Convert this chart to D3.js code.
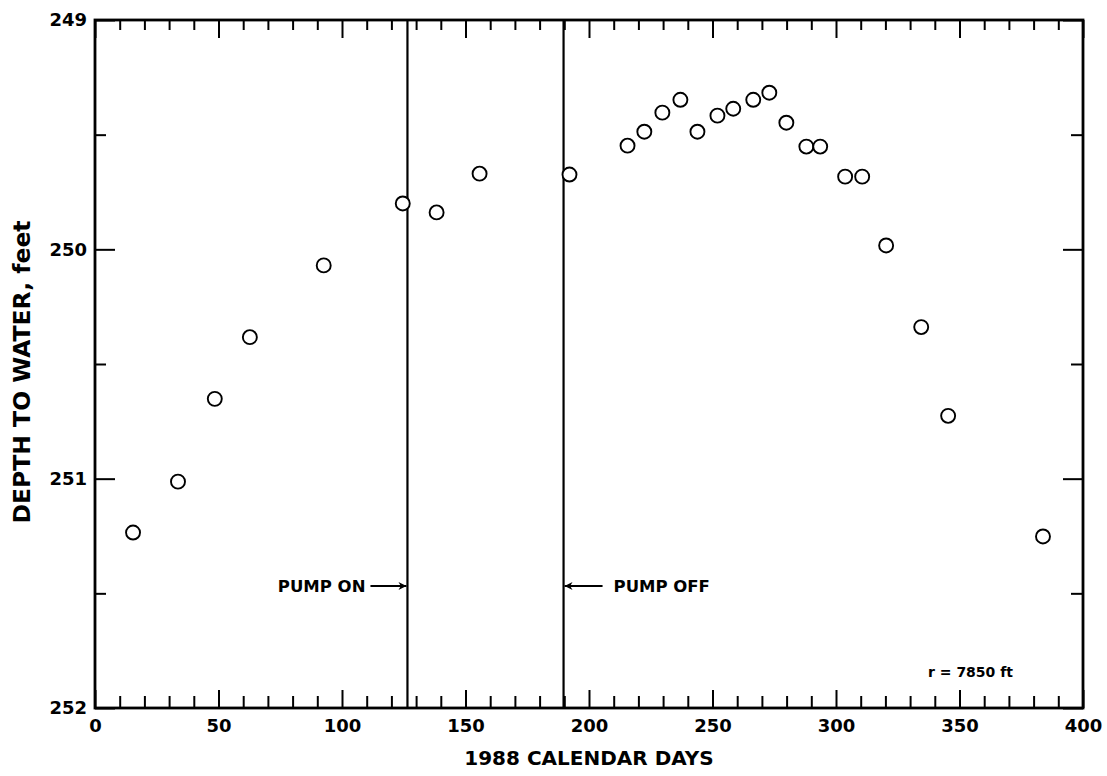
<!DOCTYPE html>
<html>
<head>
<meta charset="utf-8">
<script src="https://cdn.jsdelivr.net/npm/d3@7"></script>
<style>
  html, body { margin: 0; padding: 0; background: #fff; }
  text { font-family: "DejaVu Sans", "Liberation Sans", Arial, sans-serif; font-weight: bold; fill: #000; }
</style>
</head>
<body>
<svg id="chart" width="1107" height="776"></svg>
<script>
// ---- data ----
const days = [15.4, 33.6, 48.5, 62.7, 92.6, 124.6, 138.3, 155.7, 192.1, 215.6, 222.4, 229.7, 237.0, 243.9,
              252.0, 258.4, 266.5, 273.0, 279.9, 288.0, 293.6, 303.7, 310.6, 320.3, 334.5, 345.4, 383.8];
const depths = [251.235, 251.013, 250.652, 250.383, 250.070, 249.800, 249.839, 249.670, 249.674, 249.548,
                249.487, 249.404, 249.348, 249.487, 249.417, 249.387, 249.348, 249.317, 249.448, 249.552,
                249.552, 249.683, 249.683, 249.983, 250.339, 250.726, 251.252];
const xMajorTicks = [0, 50, 100, 150, 200, 250, 300, 350, 400];
const xMinorTicks = d3.range(0, 401, 10).filter(d => d % 50 !== 0);
const yMajorTicks = [249, 250, 251, 252];
const yMinorTicks = [249.5, 250.5, 251.5];
const pumpOnDay = 126.5;
const pumpOffDay = 189.7;
const xTitle = "1988 CALENDAR DAYS";
const yTitle = "DEPTH TO WATER, feet";
const noteText = "r = 7850 ft";

// ---- layout ----
const svg = d3.select("#chart");
const L = 95, R = 1083, T = 20, B = 708;
const x = d3.scaleLinear().domain([0, 400]).range([L, R]);
const y = d3.scaleLinear().domain([249, 252]).range([T, B]);

function styleAxis(g) {
  g.select(".domain").remove();
  g.selectAll(".tick line").attr("stroke", "#000").attr("stroke-width", 2);
}
function styleLabels(g) {
  g.selectAll(".tick text").attr("font-size", 18).attr("font-family", "DejaVu Sans")
    .attr("font-weight", "bold").attr("fill", "#000");
}

// bottom axis
svg.append("g").attr("transform", `translate(0,${B})`)
  .call(d3.axisBottom(x).tickValues(xMinorTicks).tickSize(-12).tickFormat(""))
  .call(styleAxis);
svg.append("g").attr("transform", `translate(0,${B})`)
  .call(d3.axisBottom(x).tickValues(xMajorTicks).tickSize(-18).tickPadding(11).tickFormat(d3.format("d")))
  .call(styleAxis).call(styleLabels);

// top axis
svg.append("g").attr("transform", `translate(0,${T})`)
  .call(d3.axisTop(x).tickValues(xMinorTicks).tickSize(-10).tickFormat(""))
  .call(styleAxis);
svg.append("g").attr("transform", `translate(0,${T})`)
  .call(d3.axisTop(x).tickValues(xMajorTicks).tickSize(-18).tickFormat(""))
  .call(styleAxis);

// left axis
svg.append("g").attr("transform", `translate(${L},0)`)
  .call(d3.axisLeft(y).tickValues(yMinorTicks).tickSize(-11).tickFormat(""))
  .call(styleAxis);
svg.append("g").attr("transform", `translate(${L},0)`)
  .call(d3.axisLeft(y).tickValues(yMajorTicks).tickSize(-20).tickPadding(8).tickFormat(d3.format("d")))
  .call(styleAxis).call(styleLabels);

// right axis
svg.append("g").attr("transform", `translate(${R},0)`)
  .call(d3.axisRight(y).tickValues(yMinorTicks).tickSize(-12).tickFormat(""))
  .call(styleAxis);
svg.append("g").attr("transform", `translate(${R},0)`)
  .call(d3.axisRight(y).tickValues(yMajorTicks).tickSize(-20).tickFormat(""))
  .call(styleAxis);

// frame
svg.append("rect").attr("x", L).attr("y", T).attr("width", R - L).attr("height", B - T)
  .attr("fill", "none").attr("stroke", "#000").attr("stroke-width", 2.8);

// pump lines
[pumpOnDay, pumpOffDay].forEach(d => {
  svg.append("line").attr("x1", x(d)).attr("x2", x(d)).attr("y1", T).attr("y2", B)
    .attr("stroke", "#000").attr("stroke-width", 2.2);
});

// arrowhead marker
svg.append("defs").append("marker").attr("id", "arr")
  .attr("viewBox", "0 0 10 10").attr("refX", 10).attr("refY", 5)
  .attr("markerWidth", 13).attr("markerHeight", 8).attr("markerUnits", "userSpaceOnUse")
  .attr("orient", "auto")
  .append("path").attr("d", "M0,0 L10,5 L0,10 L3,5 Z").attr("fill", "#000");

const arrowY = 586;
svg.append("line").attr("x1", x(pumpOnDay) - 37).attr("x2", x(pumpOnDay) - 1)
  .attr("y1", arrowY).attr("y2", arrowY).attr("stroke", "#000").attr("stroke-width", 2.2)
  .attr("marker-end", "url(#arr)");
svg.append("text").attr("x", x(pumpOnDay) - 42).attr("y", arrowY).attr("dy", "0.36em")
  .attr("text-anchor", "end").attr("font-size", 16.5).text("PUMP ON");

svg.append("line").attr("x1", x(pumpOffDay) + 39).attr("x2", x(pumpOffDay) + 1)
  .attr("y1", arrowY).attr("y2", arrowY).attr("stroke", "#000").attr("stroke-width", 2.2)
  .attr("marker-end", "url(#arr)");
svg.append("text").attr("x", x(pumpOffDay) + 50).attr("y", arrowY).attr("dy", "0.36em")
  .attr("text-anchor", "start").attr("font-size", 16.5).text("PUMP OFF");

// points
svg.append("g").selectAll("circle").data(days.map((d, i) => [d, depths[i]])).join("circle")
  .attr("cx", d => x(d[0])).attr("cy", d => y(d[1])).attr("r", 7)
  .attr("fill", "#fff").attr("stroke", "#000").attr("stroke-width", 1.9);

// note
svg.append("text").attr("x", 928).attr("y", 677).attr("font-size", 14).text(noteText);

// titles
svg.append("text").attr("x", (L + R) / 2).attr("y", 765).attr("text-anchor", "middle")
  .attr("font-size", 20).text(xTitle);
svg.append("text").attr("transform", "translate(30,372) rotate(-90)").attr("text-anchor", "middle")
  .attr("font-size", 23.5).text(yTitle);
</script>
</body>
</html>
